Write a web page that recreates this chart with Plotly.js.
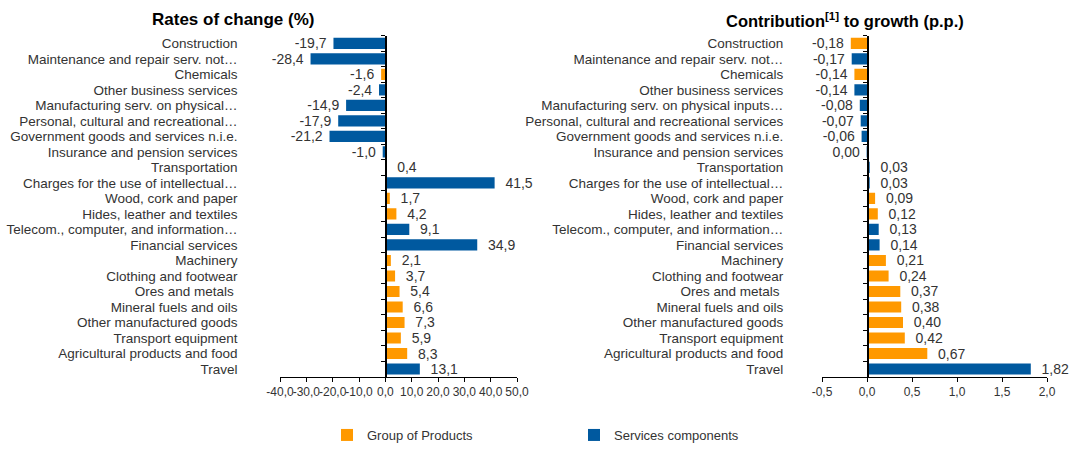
<!DOCTYPE html>
<html>
<head>
<meta charset="utf-8">
<script src="https://cdn.plot.ly/plotly-3.0.1.min.js"></script>
<style>html,body{margin:0;padding:0;background:#fff}#chart{width:1092px;height:450px}</style>
</head>
<body>
<div id="chart"></div>
<script>
// ---- data ----
const categoriesLeft = [
  "Construction",
  "Maintenance and repair serv. not…",
  "Chemicals",
  "Other business services",
  "Manufacturing serv. on physical…",
  "Personal, cultural and recreational…",
  "Government goods and services n.i.e.",
  "Insurance and pension services",
  "Transportation",
  "Charges for the use of intellectual…",
  "Wood, cork and paper",
  "Hides, leather and textiles",
  "Telecom., computer, and information…",
  "Financial services",
  "Machinery",
  "Clothing and footwear",
  "Ores and metals ",
  "Mineral fuels and oils",
  "Other manufactured goods",
  "Transport equipment",
  "Agricultural products and food",
  "Travel"
];
const categoriesRight = [
  "Construction",
  "Maintenance and repair serv. not…",
  "Chemicals",
  "Other business services",
  "Manufacturing serv. on physical inputs…",
  "Personal, cultural and recreational services",
  "Government goods and services n.i.e.",
  "Insurance and pension services",
  "Transportation",
  "Charges for the use of intellectual…",
  "Wood, cork and paper",
  "Hides, leather and textiles",
  "Telecom., computer, and information…",
  "Financial services",
  "Machinery",
  "Clothing and footwear",
  "Ores and metals ",
  "Mineral fuels and oils",
  "Other manufactured goods",
  "Transport equipment",
  "Agricultural products and food",
  "Travel"
];
const ratesOfChange = [-19.7, -28.4, -1.6, -2.4, -14.9, -17.9, -21.2, -1.0, 0.4, 41.5, 1.7, 4.2, 9.1, 34.9, 2.1, 3.7, 5.4, 6.6, 7.3, 5.9, 8.3, 13.1];
const contributions = [-0.18, -0.17, -0.14, -0.14, -0.08, -0.07, -0.06, -0.004, 0.03, 0.03, 0.09, 0.12, 0.13, 0.14, 0.21, 0.24, 0.37, 0.38, 0.40, 0.42, 0.67, 1.82];
// P = Group of Products, S = Services components (as coloured in each panel)
const groupLeft  = ["S","S","P","S","S","S","S","S","S","S","P","P","S","S","P","P","P","P","P","P","P","S"];
const groupRight = ["P","S","P","S","S","S","S","S","S","S","P","P","S","S","P","P","P","P","P","P","P","S"];
const seriesNames = {P: "Group of Products", S: "Services components"};
const leftTickValues  = [-40, -30, -20, -10, 0, 10, 20, 30, 40, 50];
const leftTickLabels  = ["-40,0","-30,0","-20,0","-10,0","0,0","10,0","20,0","30,0","40,0","50,0"];
const rightTickValues = [-0.5, 0, 0.5, 1.0, 1.5, 2.0];
const rightTickLabels = ["-0,5","0,0","0,5","1,0","1,5","2,0"];

// ---- styling ----
const COLORS = {P: "#FF9900", S: "#00599F"};
const FONT = "Liberation Sans, Arial, sans-serif";
const W = 1092, H = 450;
const leftDomain = [280 / W, 517 / W];
const rightDomain = [822 / W, 1047 / W];
const yDomain = [1 - 381 / H, 1 - 36 / H];
const leftRange = [-40, 50];
const rightRange = [-0.5, 2.0];
function zeroPos(dom, rng) { return dom[0] + (0 - rng[0]) / (rng[1] - rng[0]) * (dom[1] - dom[0]); }

const NB = "\u00a0";
function fmt(v, d) {
  let s = v.toFixed(d);
  if (Math.abs(parseFloat(s)) === 0) s = (0).toFixed(d);
  s = s.replace(".", ",");
  // pad away from the bar end
  return v < 0 ? s + NB : NB + NB + s;
}

function buildTraces(cats, vals, groups, decimals, xa, ya, showLegend) {
  return ["P", "S"].map(g => {
    const idx = groups.map((gg, i) => gg === g ? i : -1).filter(i => i >= 0);
    return {
      type: "bar",
      orientation: "h",
      name: seriesNames[g],
      legendgroup: g,
      showlegend: showLegend,
      y: idx.map(i => cats[i]),
      x: idx.map(i => vals[i]),
      text: idx.map(i => fmt(vals[i], decimals)),
      textposition: "outside",
      constraintext: "none",
      cliponaxis: false,
      textfont: {family: FONT, size: 14, color: "#333"},
      marker: {color: COLORS[g], line: {width: 0}},
      width: 0.72,
      xaxis: xa,
      yaxis: ya,
      hoverinfo: "x+y"
    };
  });
}

const data = [
  ...buildTraces(categoriesLeft, ratesOfChange, groupLeft, 1, "x", "y", true),
  ...buildTraces(categoriesRight, contributions, groupRight, 2, "x2", "y2", false)
];

function yAxis(cats, pos, standoff) {
  return {
    domain: yDomain, anchor: "free", position: pos,
    type: "category", categoryorder: "array", categoryarray: cats,
    range: [cats.length - 0.5, -0.5],
    tickmode: "linear", tick0: 0, dtick: 1,
    tickson: "boundaries", ticks: "outside", ticklen: 4, tickcolor: "#000", tickwidth: 1,
    showline: true, linecolor: "#000", linewidth: 1.5,
    ticklabelstandoff: standoff,
    tickfont: {family: FONT, size: 13.5, color: "#333"},
    showgrid: false, zeroline: false, fixedrange: true
  };
}
function xAxis(dom, rng, vals, labels, anchor) {
  return {
    domain: dom, anchor: anchor, range: rng,
    tickmode: "array", tickvals: vals, ticktext: labels,
    ticks: "outside", ticklen: 4, tickcolor: "#000",
    showline: true, linecolor: "#000", linewidth: 1,
    showgrid: false, zeroline: false, tickangle: 0,
    tickfont: {family: FONT, size: 12, color: "#333"}, fixedrange: true
  };
}

const layout = {
  width: W, height: H,
  margin: {l: 0, r: 0, t: 0, b: 0},
  paper_bgcolor: "#fff", plot_bgcolor: "rgba(0,0,0,0)",
  separators: ", ",
  barmode: "overlay",
  font: {family: FONT, color: "#333"},
  xaxis: xAxis(leftDomain, leftRange, leftTickValues, leftTickLabels, "y"),
  yaxis: yAxis(categoriesLeft, zeroPos(leftDomain, leftRange), 145),
  xaxis2: xAxis(rightDomain, rightRange, rightTickValues, rightTickLabels, "y2"),
  yaxis2: yAxis(categoriesRight, zeroPos(rightDomain, rightRange), 81),
  showlegend: true,
  legend: {
    orientation: "h", x: 327 / W, xanchor: "left", y: 1 - 440 / H, yanchor: "middle",
    entrywidth: 202, entrywidthmode: "pixels",
    font: {family: FONT, size: 13, color: "#333"}, traceorder: "normal"
  },
  annotations: [
    {text: "<b>Rates of change (%)</b>", xref: "paper", yref: "paper", x: 233 / W, y: 1 - 20 / H,
     xanchor: "center", yanchor: "middle", showarrow: false, font: {family: FONT, size: 17, color: "#000"}},
    {text: "<b>Contribution<sup>[1]</sup> to growth (p.p.)</b>", xref: "paper", yref: "paper", x: 845 / W, y: 1 - 20 / H,
     xanchor: "center", yanchor: "middle", showarrow: false, font: {family: FONT, size: 16.5, color: "#000"}}
  ]
};

Plotly.newPlot("chart", data, layout, {displayModeBar: false, staticPlot: true});
</script>
</body>
</html>
